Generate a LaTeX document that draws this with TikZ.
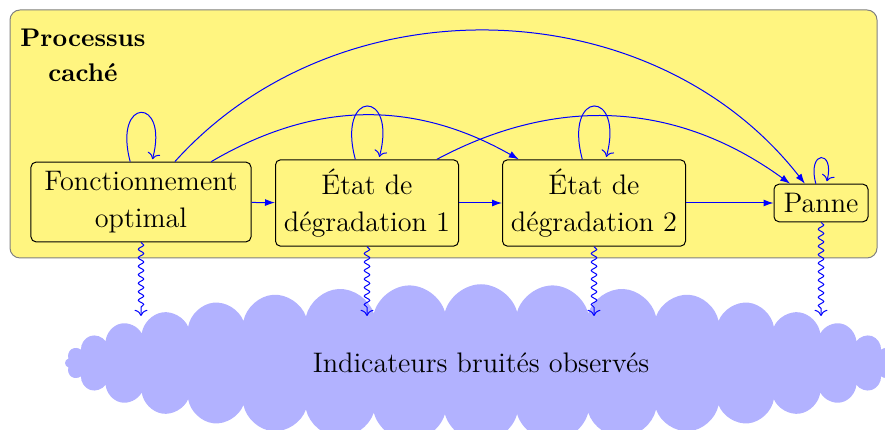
\documentclass[tikz,border=0pt]{standalone}
\usetikzlibrary{shapes.symbols,decorations.pathmorphing,arrows.meta}

\definecolor{jaune}{RGB}{255,245,128}

\tikzset{
  etat/.style={draw, rounded corners=2pt, fill=jaune, align=center,
    inner xsep=3pt, inner ysep=3.6pt, font=\fontsize{11.3}{14.8}\selectfont},
  trans/.style={-{Latex[length=4pt,width=2.8pt]}, blue},
  boucle/.style={->, blue, loop above},
  bruit/.style={->, blue, decorate,
    decoration={snake, amplitude=1.1pt, segment length=3.4pt, post length=2pt}},
}

\begin{document}
\begin{tikzpicture}[x=0.4pt, y=-0.4pt]
\useasboundingbox (0,0) rectangle (885,430);
% indicateurs
\node[cloud, cloud puffs=36, cloud ignores aspect, fill=blue!30, minimum width=332.8pt, minimum height=63pt,
  font=\fontsize{11.3}{13}\selectfont] (obs) at (481,363) {Indicateurs bruités observés};
% processus cache
\draw[gray, fill=jaune, rounded corners=4pt] (10,10) rectangle (877,258);
\node[font=\fontsize{10.2}{14}\selectfont\bfseries, align=center] (titre) at (83,55) {Processus\\caché};
\node[etat, minimum width=88pt] (fonct) at (141,202) {Fonctionnement\\optimal};
\node[etat, minimum width=73.2pt] (deg1) at (367,203) {État de\\dégradation 1};
\node[etat, minimum width=73.2pt] (deg2) at (594,203) {État de\\dégradation 2};
\node[etat, minimum width=37.6pt] (panne) at (821,203) {Panne};
% transitions
\draw[trans] (fonct) -- (deg1);
\draw[trans] (deg1) -- (deg2);
\draw[trans] (deg2) -- (panne);
\draw[trans] (fonct) to[bend left=30] (deg2);
\draw[trans] (fonct) to[bend left=50] (panne);
\draw[trans] (deg1) to[bend left=32] (panne);
\path (fonct) edge[boucle] (fonct);
\path (deg1) edge[boucle] (deg1);
\path (deg2) edge[boucle] (deg2);
\path (panne) edge[boucle] (panne);
% observations
\coordinate (o1) at (141,316);
\coordinate (o2) at (367,316);
\coordinate (o3) at (594,316);
\coordinate (o4) at (821,316);
\draw[bruit] (fonct) -- (o1);
\draw[bruit] (deg1) -- (o2);
\draw[bruit] (deg2) -- (o3);
\draw[bruit] (panne) -- (o4);
\end{tikzpicture}
\end{document}
